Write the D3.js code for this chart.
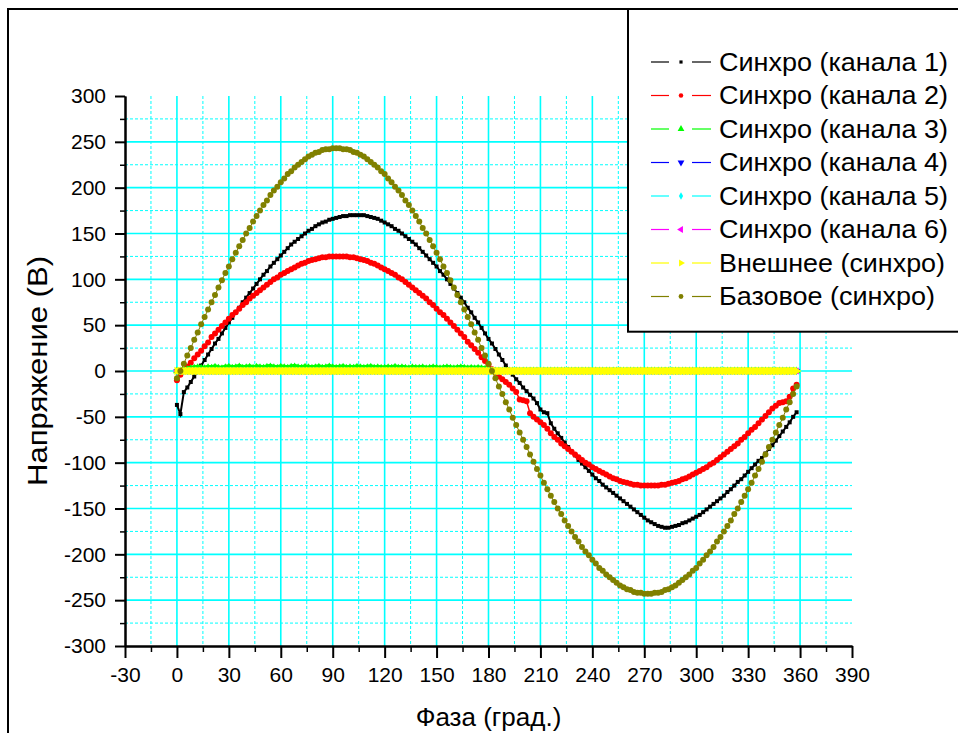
<!DOCTYPE html>
<html>
<head>
<meta charset="utf-8">
<script src="https://cdn.jsdelivr.net/npm/d3@7"></script>
<style>
  body { margin: 0; background: #fff; }
  svg { display: block; }
  text { font-family: "Liberation Sans", Arial, Helvetica, sans-serif; fill: #000; }
</style>
</head>
<body>
<svg id="chart" width="958" height="733"></svg>
<script>
// Sampling grid, degrees of phase
const phaseDeg = [
  0,2,4,6,8,10,12,14,16,18, 20,22,24,26,28,30,32,34,36,38,
  40,42,44,46,48,50,52,54,56,58, 60,62,64,66,68,70,72,74,76,78,
  80,82,84,86,88,90,92,94,96,98, 100,102,104,106,108,110,112,114,116,118,
  120,122,124,126,128,130,132,134,136,138, 140,142,144,146,148,150,152,154,156,158,
  160,162,164,166,168,170,172,174,176,178, 180,182,184,186,188,190,192,194,196,198,
  200,202,204,206,208,210,212,214,216,218, 220,222,224,226,228,230,232,234,236,238,
  240,242,244,246,248,250,252,254,256,258, 260,262,264,266,268,270,272,274,276,278,
  280,282,284,286,288,290,292,294,296,298, 300,302,304,306,308,310,312,314,316,318,
  320,322,324,326,328,330,332,334,336,338, 340,342,344,346,348,350,352,354,356,358
];

// Синхро (канала 1), В
const ch1 = [
  -37,-47,-23,-18,-12,-6,0,6,12,18,
  24,30,35,41,47,53,58,64,69,75,
  80,85,90,95,100,105,109,114,118,122,
  126,130,134,138,141,144,147,150,153,155,
  158,160,162,163,165,166,167,168,169,169,
  170,170,170,170,170,169,168,167,166,164,
  162,160,158,155,153,150,147,144,141,138,
  134,130,126,122,118,114,109,105,100,95,
  90,85,80,75,69,64,58,53,47,41,
  35,30,24,18,12,6,1,-4,-9,-13,
  -18,-22,-26,-30,-35,-42,-45,-46,-57,-63,
  -68,-73,-78,-83,-88,-92,-97,-101,-105,-109,
  -113,-117,-120,-124,-127,-130,-133,-136,-139,-142,
  -145,-148,-151,-154,-157,-160,-163,-165,-167,-169,
  -170,-171,-171,-170,-169,-168,-166,-165,-163,-161,
  -159,-157,-154,-151,-148,-145,-142,-139,-136,-132,
  -129,-125,-121,-118,-114,-110,-106,-102,-98,-95,
  -90,-85,-81,-76,-71,-66,-61,-56,-50,-45
];

// Синхро (канала 2), В
const ch2 = [
  -10,-4,1,5,9,14,18,22,27,31,
  37,41,45,49,53,57,61,64,68,72,
  75,79,82,85,88,91,94,97,100,102,
  105,107,109,111,113,115,117,118,120,121,
  122,123,124,124,125,125,125,125,125,125,
  124,124,123,122,121,120,118,117,115,113,
  111,109,107,105,102,100,97,94,91,88,
  85,82,79,75,72,68,64,61,57,53,
  49,45,41,37,32,28,24,20,15,11,
  7,2,-2,-6,-9,-12,-15,-19,-23,-31,
  -32,-33,-46,-50,-53,-56,-59,-63,-68,-72,
  -75,-79,-82,-85,-88,-91,-94,-97,-100,-102,
  -105,-107,-109,-111,-113,-115,-117,-118,-120,-121,
  -122,-123,-124,-124,-125,-125,-125,-125,-125,-125,
  -124,-124,-123,-122,-121,-120,-118,-117,-115,-113,
  -111,-109,-107,-105,-102,-100,-97,-94,-91,-88,
  -85,-82,-79,-75,-72,-68,-64,-61,-57,-53,
  -49,-45,-41,-38,-35,-34,-33,-28,-19,-15
];

// Синхро (канала 3), В
const ch3 = [
  0,0,0.5,1.5,2.5,3,3.5,3,2.5,3.5,
  3,4,3,2.5,3.5,4,3,3.5,4.5,3,
  3.5,4,3,4,3.5,3,4,4.5,3.5,3,
  4,3.5,3,4,4.5,3.5,3,4,3.5,3,
  3.5,4,3,3.5,4.5,3.5,3,3.5,4,3,
  3.5,3,4,3.5,3,3.5,4,3,3.5,3,
  3,3.5,3,4,3,3.5,3,2.5,3.5,3,
  3,3.5,2.5,3,3.5,3,2.5,3,3.5,3,
  2.5,3,3.5,3,2.5,3,2.5,3,2.5,2,
  1,0,0,0,0,0,0,0,0,0,
  0,0,0,0,0,0,0,0,0,0, 0,0,0,0,0,0,0,0,0,0,
  0,0,0,0,0,0,0,0,0,0, 0,0,0,0,0,0,0,0,0,0,
  0,0,0,0,0,0,0,0,0,0, 0,0,0,0,0,0,0,0,0,0,
  0,0,0,0,0,0,0,0,0,0, 0,0,0,0,0,0,0,0,0,0
];

// Синхро (канала 4), (канала 5), (канала 6), Внешнее: flat at zero
const ch4 = [
  0,0,0,0,0,0,0,0,0,0, 0,0,0,0,0,0,0,0,0,0, 0,0,0,0,0,0,0,0,0,0,
  0,0,0,0,0,0,0,0,0,0, 0,0,0,0,0,0,0,0,0,0, 0,0,0,0,0,0,0,0,0,0,
  0,0,0,0,0,0,0,0,0,0, 0,0,0,0,0,0,0,0,0,0, 0,0,0,0,0,0,0,0,0,0,
  0,0,0,0,0,0,0,0,0,0, 0,0,0,0,0,0,0,0,0,0, 0,0,0,0,0,0,0,0,0,0,
  0,0,0,0,0,0,0,0,0,0, 0,0,0,0,0,0,0,0,0,0, 0,0,0,0,0,0,0,0,0,0,
  0,0,0,0,0,0,0,0,0,0, 0,0,0,0,0,0,0,0,0,0, 0,0,0,0,0,0,0,0,0,0
];
const ch5 = [
  0,0,0,0,0,0,0,0,0,0, 0,0,0,0,0,0,0,0,0,0, 0,0,0,0,0,0,0,0,0,0,
  0,0,0,0,0,0,0,0,0,0, 0,0,0,0,0,0,0,0,0,0, 0,0,0,0,0,0,0,0,0,0,
  0,0,0,0,0,0,0,0,0,0, 0,0,0,0,0,0,0,0,0,0, 0,0,0,0,0,0,0,0,0,0,
  0,0,0,0,0,0,0,0,0,0, 0,0,0,0,0,0,0,0,0,0, 0,0,0,0,0,0,0,0,0,0,
  0,0,0,0,0,0,0,0,0,0, 0,0,0,0,0,0,0,0,0,0, 0,0,0,0,0,0,0,0,0,0,
  0,0,0,0,0,0,0,0,0,0, 0,0,0,0,0,0,0,0,0,0, 0,0,0,0,0,0,0,0,0,0
];
const ch6 = [
  0,0,0,0,0,0,0,0,0,0, 0,0,0,0,0,0,0,0,0,0, 0,0,0,0,0,0,0,0,0,0,
  0,0,0,0,0,0,0,0,0,0, 0,0,0,0,0,0,0,0,0,0, 0,0,0,0,0,0,0,0,0,0,
  0,0,0,0,0,0,0,0,0,0, 0,0,0,0,0,0,0,0,0,0, 0,0,0,0,0,0,0,0,0,0,
  0,0,0,0,0,0,0,0,0,0, 0,0,0,0,0,0,0,0,0,0, 0,0,0,0,0,0,0,0,0,0,
  0,0,0,0,0,0,0,0,0,0, 0,0,0,0,0,0,0,0,0,0, 0,0,0,0,0,0,0,0,0,0,
  0,0,0,0,0,0,0,0,0,0, 0,0,0,0,0,0,0,0,0,0, 0,0,0,0,0,0,0,0,0,0
];
const extSync = [
  0,0,0,0,0,0,0,0,0,0, 0,0,0,0,0,0,0,0,0,0, 0,0,0,0,0,0,0,0,0,0,
  0,0,0,0,0,0,0,0,0,0, 0,0,0,0,0,0,0,0,0,0, 0,0,0,0,0,0,0,0,0,0,
  0,0,0,0,0,0,0,0,0,0, 0,0,0,0,0,0,0,0,0,0, 0,0,0,0,0,0,0,0,0,0,
  0,0,0,0,0,0,0,0,0,0, 0,0,0,0,0,0,0,0,0,0, 0,0,0,0,0,0,0,0,0,0,
  0,0,0,0,0,0,0,0,0,0, 0,0,0,0,0,0,0,0,0,0, 0,0,0,0,0,0,0,0,0,0,
  0,0,0,0,0,0,0,0,0,0, 0,0,0,0,0,0,0,0,0,0, 0,0,0,0,0,0,0,0,0,0
];

// Базовое (синхро), В
const baseSync = [
  -8,0,8,17,25,34,42,51,59,67,
  75,83,91,99,107,114,122,129,136,143,
  150,156,163,169,175,181,186,192,197,201,
  206,210,215,218,222,225,228,231,234,236,
  238,239,241,242,242,243,243,243,242,242,
  241,239,238,236,234,231,228,225,222,218,
  215,210,206,201,197,192,186,181,175,169,
  163,156,150,143,136,129,122,114,107,99,
  91,83,75,67,59,51,42,34,25,17,
  8,0,-8,-17,-25,-34,-42,-51,-59,-67,
  -75,-83,-91,-99,-107,-114,-122,-129,-136,-143,
  -150,-156,-163,-169,-175,-181,-186,-192,-197,-201,
  -206,-210,-215,-218,-222,-225,-228,-231,-234,-236,
  -238,-239,-241,-242,-242,-243,-243,-243,-242,-242,
  -241,-239,-238,-236,-234,-231,-228,-225,-222,-218,
  -215,-210,-206,-201,-197,-192,-186,-181,-175,-169,
  -163,-156,-150,-143,-136,-129,-122,-114,-107,-99,
  -91,-83,-75,-67,-59,-51,-42,-34,-25,-17
];

const seriesNames = [
  "Синхро (канала 1)", "Синхро (канала 2)", "Синхро (канала 3)", "Синхро (канала 4)",
  "Синхро (канала 5)", "Синхро (канала 6)", "Внешнее (синхро)", "Базовое (синхро)"
];
const seriesValues = [ch1, ch2, ch3, ch4, ch5, ch6, extSync, baseSync];

const xMajorTicks = [-30,0,30,60,90,120,150,180,210,240,270,300,330,360,390];
const xMinorTicks = [-15,15,45,75,105,135,165,195,225,255,285,315,345,375];
const yMajorTicks = [-300,-250,-200,-150,-100,-50,0,50,100,150,200,250,300];
const yMinorTicks = [-275,-225,-175,-125,-75,-25,25,75,125,175,225,275];

const xTitle = "Фаза (град.)";
const yTitle = "Напряжение (В)";

// ---- styling: marker shape/size, width of the connecting line ----
const seriesStyle = [
  { color: "#000000", symbol: d3.symbolSquare,   size: 16, rotate: 0,   lineW: 2 },
  { color: "#ff0000", symbol: d3.symbolCircle,   size: 28, rotate: 0,   lineW: 1.5 },
  { color: "#00ff00", symbol: d3.symbolTriangle, size: 26, rotate: 0,   lineW: 6 },
  { color: "#0000ff", symbol: d3.symbolTriangle, size: 22, rotate: 180, lineW: 1 },
  { color: "#00ffff", symbol: d3.symbolDiamond,  size: 18, rotate: 0,   lineW: 1 },
  { color: "#ff00ff", symbol: d3.symbolTriangle, size: 22, rotate: -90, lineW: 1 },
  { color: "#ffff00", symbol: d3.symbolTriangle, size: 32, rotate: 90,  lineW: 7 },
  { color: "#808000", symbol: d3.symbolCircle,   size: 28, rotate: 0,   lineW: 1 }
];
const legendSymbolSize = [10, 16, 20, 20, 16, 20, 20, 18];

const svg = d3.select("#chart");
const area = { left: 125, right: 852, top: 96, bottom: 646 };

const x = d3.scaleLinear().domain([-30, 390]).range([area.left, area.right]);
const y = d3.scaleLinear().domain([-300, 300]).range([area.bottom, area.top]);

// outer frame
svg.append("rect")
  .attr("x", 8).attr("y", 9).attr("width", 1000).attr("height", 800)
  .attr("fill", "none").attr("stroke", "#000").attr("stroke-width", 2);

// grid
const grid = svg.append("g").attr("class", "grid");
grid.selectAll("line.vmin").data(xMinorTicks).join("line")
  .attr("x1", d => x(d)).attr("x2", d => x(d))
  .attr("y1", area.top).attr("y2", area.bottom)
  .attr("stroke", "#00ffff").attr("stroke-width", 1).attr("stroke-dasharray", "3,2");
grid.selectAll("line.hmin").data(yMinorTicks).join("line")
  .attr("y1", d => y(d)).attr("y2", d => y(d))
  .attr("x1", area.left).attr("x2", area.right)
  .attr("stroke", "#00ffff").attr("stroke-width", 1).attr("stroke-dasharray", "3,2");
grid.selectAll("line.vmaj").data(xMajorTicks.filter(d => d > -30 && d < 390)).join("line")
  .attr("x1", d => x(d)).attr("x2", d => x(d))
  .attr("y1", area.top).attr("y2", area.bottom)
  .attr("stroke", "#00ffff").attr("stroke-width", 1.6);
grid.selectAll("line.hmaj").data(yMajorTicks.filter(d => d > -300 && d < 300)).join("line")
  .attr("y1", d => y(d)).attr("y2", d => y(d))
  .attr("x1", area.left).attr("x2", area.right)
  .attr("stroke", "#00ffff").attr("stroke-width", 1.6);

// axes
const xAxisMinor = d3.axisBottom(x).tickValues(xMinorTicks).tickSize(6).tickFormat("").tickSizeOuter(0);
const xAxisMajor = d3.axisBottom(x).tickValues(xMajorTicks).tickSize(12).tickPadding(9).tickSizeOuter(0);
const yAxisMinor = d3.axisLeft(y).tickValues(yMinorTicks).tickSize(5).tickFormat("").tickSizeOuter(0);
const yAxisMajor = d3.axisLeft(y).tickValues(yMajorTicks).tickSize(10).tickPadding(9).tickSizeOuter(0);

function styleAxis(g, width) {
  g.select(".domain").attr("stroke", "#000").attr("stroke-width", 2);
  g.selectAll(".tick line").attr("stroke", "#000").attr("stroke-width", width);
  g.selectAll(".tick text").attr("font-size", 21)
    .attr("font-family", "Liberation Sans, Arial, sans-serif").attr("fill", "#000");
}

svg.append("g").attr("transform", `translate(0,${area.bottom})`).call(xAxisMinor).call(g => styleAxis(g, 1.5));
svg.append("g").attr("transform", `translate(0,${area.bottom})`).call(xAxisMajor).call(g => styleAxis(g, 2));
svg.append("g").attr("transform", `translate(${area.left},0)`).call(yAxisMinor).call(g => styleAxis(g, 1.5));
svg.append("g").attr("transform", `translate(${area.left},0)`).call(yAxisMajor).call(g => styleAxis(g, 2));

svg.selectAll("g.tick text").filter(function () { return this.textContent !== ""; })
  .text(function () { return this.textContent.replace("−", "-"); });

// axis titles
svg.append("text")
  .attr("x", (area.left + area.right) / 2).attr("y", 726)
  .attr("text-anchor", "middle").attr("font-size", 26)
  .text(xTitle);
svg.append("text")
  .attr("transform", `translate(46.5,${(area.top + area.bottom) / 2}) rotate(-90)`)
  .attr("text-anchor", "middle").attr("font-size", 27)
  .attr("textLength", 230).attr("lengthAdjust", "spacingAndGlyphs")
  .text(yTitle);

// series: connecting line plus a marker at every sample
const lineGen = d3.line().x(d => x(d[0])).y(d => y(d[1]));
const plots = svg.append("g").attr("class", "plots");
seriesValues.forEach((vals, i) => {
  const st = seriesStyle[i];
  const pts = phaseDeg.map((p, k) => [p, vals[k]]);
  const g = plots.append("g");
  g.append("path").datum(pts).attr("d", lineGen)
    .attr("fill", "none").attr("stroke", st.color).attr("stroke-width", st.lineW);
  const sym = d3.symbol().type(st.symbol).size(st.size);
  g.selectAll("path.m").data(pts).join("path").attr("class", "m")
    .attr("d", sym)
    .attr("transform", d => `translate(${x(d[0])},${y(d[1])}) rotate(${st.rotate})`)
    .attr("fill", st.color);
});

// legend
const legend = svg.append("g").attr("class", "legend");
legend.append("rect")
  .attr("x", 628).attr("y", 9).attr("width", 400).attr("height", 322.7)
  .attr("fill", "#fff").attr("stroke", "#000").attr("stroke-width", 2);
const legendWidths = [229, 229, 229, 229, 229, 229, 226, 216];
seriesNames.forEach((name, i) => {
  const st = seriesStyle[i];
  const cy = 62 + i * 33.5;
  const row = legend.append("g");
  row.append("line").attr("x1", 651).attr("x2", 669).attr("y1", cy).attr("y2", cy)
    .attr("stroke", st.color).attr("stroke-width", 1.2);
  row.append("line").attr("x1", 692).attr("x2", 711).attr("y1", cy).attr("y2", cy)
    .attr("stroke", st.color).attr("stroke-width", 1.2);
  row.append("path")
    .attr("d", d3.symbol().type(st.symbol).size(legendSymbolSize[i])())
    .attr("transform", `translate(681,${cy}) rotate(${st.rotate})`)
    .attr("fill", st.color);
  row.append("text")
    .attr("x", 719).attr("y", cy).attr("dy", "0.35em")
    .attr("font-size", 25)
    .attr("textLength", legendWidths[i]).attr("lengthAdjust", "spacingAndGlyphs")
    .text(name);
});
</script>
</body>
</html>
